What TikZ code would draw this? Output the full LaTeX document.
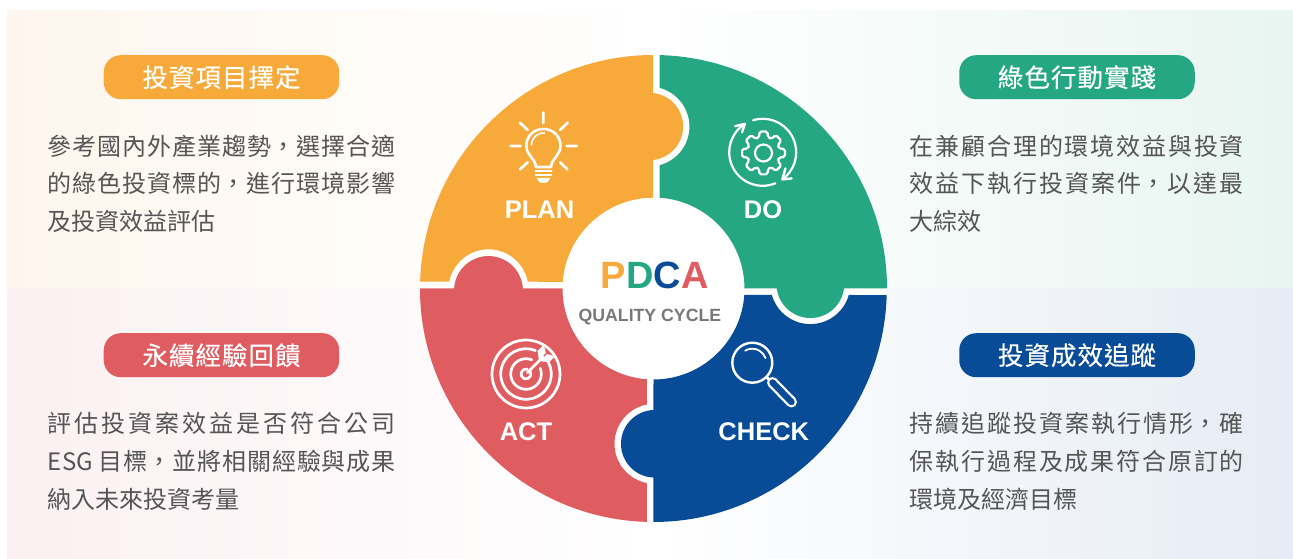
\documentclass[tikz,border=0pt]{standalone}
\usepackage{fontspec}
\setmainfont{Liberation Sans}
\newfontfamily\cjk{Noto Sans CJK TC}
\newfontfamily\cjkt[LetterSpace=4,FakeBold=0.3]{Noto Sans CJK TC}
\definecolor{cO}{HTML}{F7AA3A}
\definecolor{cG}{HTML}{24A782}
\definecolor{cB}{HTML}{084C98}
\definecolor{cR}{HTML}{DF5D60}
\definecolor{bgTL}{HTML}{FEF6EE}
\definecolor{bgTR}{HTML}{E8F5F1}
\definecolor{bgBL}{HTML}{FBF0F2}
\definecolor{bgBR}{HTML}{E6ECF5}
\definecolor{bodytxt}{HTML}{555555}
\tikzset{
  pill/.style={fill=#1,rounded corners=17pt,minimum width=235.5pt,minimum height=44pt,inner sep=0pt,text=white,font=\cjkt\fontsize{25.5}{25.5}\selectfont},
  body/.style={anchor=north west,inner sep=0pt,text=bodytxt},
  lab/.style={text=white,font=\bfseries\fontsize{25.5}{25.5}\selectfont,inner sep=0pt},
  icon/.style={draw=white,line width=2.4pt,line cap=round,line join=round},
  pxspace/.style={shift={(-653.5,288.5)},yscale=-1},
}
\newcommand{\jtext}[2]{\parbox[t]{#1pt}{\cjk\fontsize{24}{37.8}\selectfont\XeTeXlinebreaklocale "zh"\XeTeXlinebreakskip=0pt plus 30pt\tolerance=10000\hbadness=10000\emergencystretch=20pt\lineskiplimit=-30pt\parindent=0pt\parskip=0pt #2}}
\begin{document}
\begin{tikzpicture}[x=1pt,y=1pt]
\useasboundingbox (-653.5,-270.5) rectangle (639.5,288.5);
% backgrounds
\shade[left color=bgTL,right color=white] (-646.5,0) rectangle (0,277.5);
\shade[left color=white,right color=bgTR] (0,0) rectangle (639.5,277.5);
\shade[left color=bgBL,right color=white] (-646.5,-270.5) rectangle (0,0);
\shade[left color=white,right color=bgBR] (0,-270.5) rectangle (639.5,0);
\fill[white] (0,0) circle[radius=233];
% pieces
\fill[cO] (178.33:233.5) arc[start angle=178.33,end angle=90.12,radius=233.5]
  -- (-0.5,195.5) arc[start angle=84,end angle=-84,radius=33.7]
  -- (-0.5,90.8) arc[start angle=90.3,end angle=175.7,radius=91]
  -- (-125.7,6.8) arc[start angle=10.9,end angle=169.1,radius=40] -- cycle;
\fill[cG] (88.48:233.5) arc[start angle=88.48,end angle=0,radius=233.5]
  -- (190.5,0) arc[start angle=-7.4,end angle=-172.6,radius=33.9]
  -- (91,0) arc[start angle=0,end angle=86.1,radius=91]
  -- (6.2,123.3) arc[start angle=-75.2,end angle=75.2,radius=40] -- cycle;
\fill[cB] (-0.2,-233.5) arc[start angle=-90,end angle=-1.6,radius=233.5]
  -- (195.3,-6.5) arc[start angle=-15.8,end angle=-164.2,radius=40]
  -- (90.8,-6.5) arc[start angle=-4.1,end angle=-90,radius=91]
  -- (-0.2,-121.5) arc[start angle=92.5,end angle=267.5,radius=33.8] -- cycle;
\fill[cR] (-91.6:233.5) arc[start angle=-91.6,end angle=-180,radius=233.5]
  -- (-199.35,0) arc[start angle=176.8,end angle=3.2,radius=34.4]
  -- (-91,0) arc[start angle=180,end angle=265.9,radius=91]
  -- (-6.5,-116) arc[start angle=100.8,end angle=259.2,radius=40] -- cycle;
% icons, in reference pixel coordinates
\begin{scope}[pxspace]
  % bulb
  \draw[icon,line width=2.6pt] (536,167) .. controls (535,158) and (526.3,155) .. (526.3,146)
    .. controls (526.3,136) and (534,129) .. (543.3,129)
    .. controls (553,129) and (560.5,136) .. (560.5,146)
    .. controls (560.5,155) and (552,158) .. (551,167) -- cycle;
  \draw[icon,line width=1.6pt] (531.5,145) arc[start angle=180,end angle=275,radius=12];
  \draw[icon,line width=2.2pt] (535.5,171) -- (551.5,171) (536,175) -- (551,175);
  \fill[white] (536.5,178) -- (550.5,178) .. controls (550,181) and (547,183) .. (543.5,183) .. controls (540,183) and (537,181) .. (536.5,178) -- cycle;
  \draw[icon,line width=2.7pt] (543.3,112.5) -- (543.3,123) (510.5,146) -- (520.5,146) (566.7,146) -- (577,146)
    (520,122.7) -- (527.7,130) (567.7,122.7) -- (560,130)
    (520,169.3) -- (527.7,162.3) (567.3,169.3) -- (560,162.3);
  % gear
  \begin{scope}[shift={(763.5,153)}]
    \draw[icon,line width=2.2pt] (0,0) circle[radius=8.5];
    \draw[icon,line width=2.2pt,rounded corners=1.8pt] (90-11:21.8)
      \foreach \a in {90,135,...,405} { -- (\a-11:21.8) -- (\a+11:21.8) -- (\a+15:16.3) -- (\a+30:16.3) }
      -- cycle;
  \end{scope}
  \begin{scope}[shift={(762.7,152.3)}]
    \draw[icon,line width=2.2pt] (-106.6:33.5) arc[start angle=-106.6,end angle=54,radius=33.5];
    \draw[icon,line width=2.2pt] (68:33.5) arc[start angle=68,end angle=238,radius=33.5];
    \draw[icon,line width=2.4pt] (54:33.5) ++(9.3,-1) -- (54:33.5) -- ++(3,-11);
    \draw[icon,line width=2.4pt] (238:33.5) ++(-9.8,2.3) -- (238:33.5) -- ++(-3,8.5);
  \end{scope}
  % target
  \begin{scope}[shift={(526,374)}]
    \draw[icon,line width=2.7pt] (0,0) circle[radius=34];
    \draw[icon,line width=2.7pt] (-28:25.3) arc[start angle=-28,end angle=292,radius=25.3];
    \draw[icon,line width=2.7pt] (-22:15.3) arc[start angle=-22,end angle=292,radius=15.3];
    \draw[icon,line width=2.7pt] (-30:5) arc[start angle=-30,end angle=285,radius=5];
    \begin{scope}[rotate=-45]
      \draw[icon,line width=2.7pt] (2,0) -- (24,0);
      \fill[white] (19,-0.8) -- (24.5,-8) -- (33,-8) -- (29,-0.8) -- cycle;
      \fill[white] (19,0.8) -- (24.5,8) -- (33,8) -- (29,0.8) -- cycle;
    \end{scope}
  \end{scope}
  % magnifier
  \begin{scope}[shift={(752.3,362.7)}]
    \draw[icon] (0,0) circle[radius=20];
    \draw[icon,line width=1.8pt] (-121:14) arc[start angle=-121,end angle=-19,radius=14];
  \end{scope}
  \draw[icon,line width=3pt] (767,377.5) -- (771,381.5);
  \draw[white,line width=11pt,line cap=round] (772.5,382.5) -- (791.5,402);
  \draw[cB,line width=6.4pt,line cap=round] (772.5,382.5) -- (791.5,402);
\end{scope}
% centre
\node[inner sep=0pt,font=\bfseries\fontsize{38}{38}\selectfont] (pdca) at (1.3,13) {\textcolor{cO}{P}\textcolor{cG}{D}\textcolor{cB}{C}\textcolor{cR}{A}};
\node[inner sep=0pt,text=black!53,font=\bfseries\fontsize{17.7}{17.7}\selectfont] (qc) at (-3.6,-28.5) {QUALITY CYCLE};
% labels
\node[lab] (plan) at (-114,79) {PLAN};
\node[lab] (do) at (109.5,79) {DO};
\node[lab] (act) at (-127.5,-143.7) {ACT};
\node[lab] (check) at (110.3,-143.7) {CHECK};
% pills
\node[pill=cO] (p1) at (-432,211.3) {投資項目擇定};
\node[pill=cG] (p2) at (423.5,211.3) {綠色行動實踐};
\node[pill=cR] (p3) at (-432,-66.7) {永續經驗回饋};
\node[pill=cB] (p4) at (423.5,-66.7) {投資成效追蹤};
% body text
\node[body] (t1) at (-605.8,154) {\jtext{348}{參考國內外產業趨勢，選擇合適的綠色投資標的，進行環境影響及投資效益評估}};
\node[body] (t2) at (256.2,154) {\jtext{334}{在兼顧合理的環境效益與投資效益下執行投資案件，以達最大綜效}};
\node[body] (t3) at (-605.8,-124) {\jtext{348}{評估投資案效益是否符合公司ESG 目標，並將相關經驗與成果納入未來投資考量}};
\node[body] (t4) at (256.2,-124) {\jtext{334}{持續追蹤投資案執行情形，確保執行過程及成果符合原訂的環境及經濟目標}};
\end{tikzpicture}
\end{document}
